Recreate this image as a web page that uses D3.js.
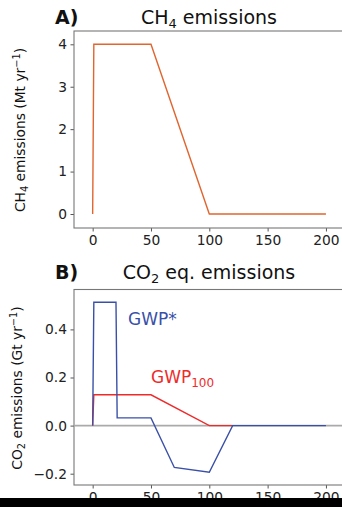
<!DOCTYPE html>
<html><head><meta charset="utf-8">
<script src="https://cdn.jsdelivr.net/npm/d3@7"></script>
<style>body{margin:0;background:#fff}svg{display:block;font-family:"DejaVu Sans",sans-serif}</style>
</head><body><svg id="c" width="342" height="507"></svg>
<script>
const years = [0, 1, 50, 100, 200];
const ch4 = [0, 4, 4, 0, 0];
const gwpStarYears = [0, 1, 20, 21, 50, 70, 100, 120, 200];
const gwpStar = [0, 0.513, 0.513, 0.032, 0.032, -0.174, -0.194, 0, 0];
const gwp100Years = [0, 1, 50, 100, 120];
const gwp100 = [0, 0.128, 0.128, 0, 0];
const xTicks = [0, 50, 100, 150, 200];
const yTicksA = [0, 1, 2, 3, 4];
const yTicksB = [-0.2, 0.0, 0.2, 0.4];

const svg = d3.select("#c");
const x = d3.scaleLinear().domain([-16, 216]).range([74, 344.6]);
const yA = d3.scaleLinear().domain([0, 4]).range([214, 44.3]);
const yB = d3.scaleLinear().domain([0, 0.4]).range([425.6, 329.4]);

function panel(top, bottom, y, yt, fmt){
  const g = svg.append("g");
  g.append("g").attr("transform",`translate(0,${bottom})`)
    .call(d3.axisBottom(x).tickValues(xTicks).tickSize(3.5).tickPadding(3.5).tickFormat(d3.format("d")));
  g.append("g").attr("transform",`translate(74,0)`)
    .call(d3.axisLeft(y).tickValues(yt).tickSize(3.5).tickPadding(3.5).tickFormat(fmt));
  g.selectAll(".domain").remove();
  g.selectAll(".tick line").attr("stroke","#555").attr("stroke-width",1);
  g.selectAll(".tick text").attr("fill","#222").style("font-size","13.8px").style("font-family","DejaVu Sans");
  g.append("rect").attr("x",74).attr("y",top).attr("width",x(216)-74).attr("height",bottom-top)
    .attr("fill","none").attr("stroke","#777").attr("stroke-width",1.1);
  return g;
}
panel(31, 228, yA, yTicksA, d3.format("d"));
panel(289.5, 485, yB, yTicksB, d => d3.format(".1f")(d).replace("-","\u2212"));

const lineA = d3.line().x((d,i)=>x(years[i])).y(d=>yA(d));
svg.append("path").attr("d", lineA(ch4)).attr("fill","none").attr("stroke","#e0652f").attr("stroke-width",1.4);

svg.append("line").attr("x1",74).attr("x2",342).attr("y1",yB(0)).attr("y2",yB(0)).attr("stroke","#aaaaaa").attr("stroke-width",1.8);
const l100 = d3.line().x((d,i)=>x(gwp100Years[i])).y(d=>yB(d));
svg.append("path").attr("d", l100(gwp100)).attr("fill","none").attr("stroke","#ee2b2b").attr("stroke-width",1.4);
const lStar = d3.line().x((d,i)=>x(gwpStarYears[i])).y(d=>yB(d));
svg.append("path").attr("d", lStar(gwpStar)).attr("fill","none").attr("stroke","#3a50a8").attr("stroke-width",1.4);

// titles
function title(yb, label){
  svg.append("text").attr("x",55).attr("y",yb).style("font-weight","bold").style("font-size","19px").attr("fill","#111").text(label);
  return svg.append("text").attr("x",209).attr("y",yb).attr("text-anchor","middle").style("font-size","19px").attr("fill","#111");
}
const tA = title(23.5, "A)");
tA.append("tspan").text("CH");
tA.append("tspan").attr("dy",4).style("font-size","13px").text("4");
tA.append("tspan").attr("dy",-4).text(" emissions");
const tB = title(279, "B)");
tB.append("tspan").text("CO");
tB.append("tspan").attr("dy",4).style("font-size","13px").text("2");
tB.append("tspan").attr("dy",-4).text(" eq. emissions");

// y labels
function ylab(cx, cy, sub, rest){
  const t = svg.append("text").attr("transform",`translate(${cx},${cy}) rotate(-90)`).attr("text-anchor","middle")
    .style("font-size","13.8px").attr("fill","#111");
  t.append("tspan").text(sub[0]);
  t.append("tspan").attr("dy",3).style("font-size","9.8px").text(sub[1]);
  t.append("tspan").attr("dy",-3).text(rest);
  t.append("tspan").attr("dy",-5).style("font-size","9.8px").text("\u22121");
  t.append("tspan").attr("dy",5).text(")");
}
ylab(25, 130, ["CH","4"], " emissions (Mt yr");
ylab(22, 388, ["CO","2"], " emissions (Gt yr");

svg.append("text").attr("x",128).attr("y",324.5).style("font-size","17px").attr("fill","#3a50a8").text("GWP*");
const g1 = svg.append("text").attr("x",151).attr("y",383).style("font-size","17px").attr("fill","#ee2b2b");
g1.append("tspan").text("GWP");
g1.append("tspan").attr("dy",4).style("font-size","12px").text("100");

svg.append("rect").attr("x",0).attr("y",498).attr("width",342).attr("height",9).attr("fill","#000");
</script></body></html>
